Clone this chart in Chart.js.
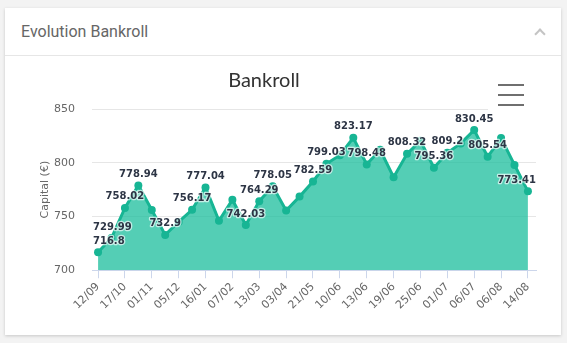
<!DOCTYPE html>
<html>
<head>
<meta charset="utf-8">
<script src="https://cdn.jsdelivr.net/npm/chart.js@4.4.1/dist/chart.umd.min.js"></script>
<style>
  html, body { margin: 0; padding: 0; }
  body { width: 567px; height: 343px; background: #f3f3f3; position: relative; overflow: hidden; }
  .card { position: absolute; left: 5px; top: 8px; width: 556px; height: 327px; background: #fff; box-shadow: 0 1px 3px rgba(0,0,0,0.18); }
  .card-head { position: absolute; left: 0; top: 0; width: 556px; height: 47px; border-bottom: 1px solid #e6e6e6; }
  .card-head h3 { margin: 0; position: absolute; left: 16px; top: 14px; font: 16px Roboto, sans-serif; color: #666; font-weight: normal; }
  .chevron { position: absolute; left: 531px; top: 22px; width: 6px; height: 6px; border-top: 2px solid #c4c4c4; border-left: 2px solid #c4c4c4; transform: rotate(45deg); }
  .chart-box { position: absolute; left: 6px; top: 58px; width: 554px; height: 276px; }
  .chart-title { position: absolute; left: 164px; top: 69px; width: 200px; text-align: center; font: 20px Lato, sans-serif; line-height: 20px; color: #333; }
  .menu { position: absolute; left: 488px; top: 78px; width: 48px; height: 33px; background: #fff; }
  .menu span { position: absolute; left: 10px; width: 26px; height: 2px; background: #6f6f6f; }
</style>
</head>
<body>
<div class="card">
  <div class="card-head"><h3>Evolution Bankroll</h3><div class="chevron"></div></div>
</div>
<div class="chart-box"><canvas id="bankrollChart"></canvas></div>
<div class="chart-title">Bankroll</div>
<div class="menu"><span style="top:6px"></span><span style="top:16px"></span><span style="top:26px"></span></div>
<script>
// dates of each session (only every other one is shown on the axis)
const dates = ['12/09', '25/09', '17/10', '22/10', '01/11', '20/11', '05/12', '28/12', '16/01', '25/01',
    '07/02', '20/02', '13/03', '24/03', '03/04', '30/04', '21/05', '01/06', '10/06', '11/06',
    '13/06', '16/06', '19/06', '22/06', '25/06', '28/06', '01/07', '04/07', '06/07', '20/07',
    '06/08', '10/08', '14/08'];
const bankroll = [716.8, 729.99, 758.02, 778.94, 756, 732.9, 745, 756.17, 777.04, 746,
    765.5, 742.03, 764.29, 778.05, 755.5, 768.5, 782.59, 799.03, 807, 823.17,
    798.48, 812, 786.5, 808.32, 820.5, 795.36, 809.2, 818, 830.45, 805.54,
    823, 798, 773.41];
// points that carry a value label
const labelled = [0, 1, 2, 3, 5, 7, 8, 11, 12, 13, 16, 17, 19, 20, 23, 25, 26, 28, 29, 32];
const yTicks = [700, 750, 800, 850];

const valueLabels = {
    id: 'valueLabels',
    afterDatasetsDraw(chart) {
        const ctx = chart.ctx;
        const meta = chart.getDatasetMeta(0);
        const area = chart.chartArea;
        ctx.save();
        ctx.font = 'bold 10px "DejaVu Sans"';
        ctx.textAlign = 'center';
        ctx.textBaseline = 'middle';
        ctx.lineJoin = 'round';
        labelled.forEach(i => {
            const pt = meta.data[i];
            const txt = String(bankroll[i]);
            const w = ctx.measureText(txt).width;
            const x = Math.min(Math.max(pt.x, area.left + w / 2 + 1), area.right - w / 2);
            const y = pt.y - 11;
            ctx.strokeStyle = 'rgba(255,255,255,0.65)';
            ctx.lineWidth = 2.5;
            ctx.strokeText(txt, x, y);
            ctx.fillStyle = '#2d3545';
            ctx.fillText(txt, x, y);
        });
        ctx.restore();
    }
};

const ctx = document.getElementById('bankrollChart').getContext('2d');
new Chart(ctx, {
    type: 'line',
    data: {
        datasets: [{
            data: bankroll.map((v, i) => ({ x: i, y: v })),
            borderColor: '#17b594',
            backgroundColor: 'rgba(30,190,158,0.76)',
            borderWidth: 3,
            pointRadius: 4,
            pointBorderWidth: 0,
            pointBackgroundColor: '#17b594',
            tension: 0,
            fill: 'start'
        }]
    },
    options: {
        responsive: true,
        maintainAspectRatio: false,
        animation: false,
        layout: { autoPadding: false, padding: { top: 51, right: 24, left: 27, bottom: 20 } },
        plugins: {
            legend: { display: false },
            tooltip: { enabled: false },
            title: { display: false }
        },
        scales: {
            x: {
                type: 'linear',
                min: -0.45,
                max: 32.6,
                afterBuildTicks: scale => {
                    scale.ticks = dates.map((d, i) => ({ value: i })).filter(t => t.value % 2 === 0);
                },
                ticks: {
                    autoSkip: false,
                    minRotation: 45,
                    maxRotation: 45,
                    padding: 2,
                    color: '#666',
                    font: { family: 'DejaVu Sans', size: 11 },
                    callback: v => dates[v]
                },
                grid: { drawOnChartArea: false, tickLength: 8, color: '#ccd6eb' },
                border: { color: '#ccd6eb' }
            },
            y: {
                min: 700,
                max: 850,
                afterBuildTicks: scale => {
                    scale.ticks = yTicks.map(v => ({ value: v }));
                },
                afterFit: scale => {
                    scale.width = 59;
                },
                ticks: {
                    padding: 17,
                    color: '#666',
                    font: { family: 'DejaVu Sans', size: 11 }
                },
                grid: { color: '#e6e6e6', drawTicks: false },
                border: { display: false },
                title: {
                    display: true,
                    text: 'Capital (€)',
                    color: '#666',
                    font: { family: 'DejaVu Sans', size: 11 },
                    padding: { top: 6, bottom: 2 }
                }
            }
        }
    },
    plugins: [valueLabels]
});
</script>
</body>
</html>
